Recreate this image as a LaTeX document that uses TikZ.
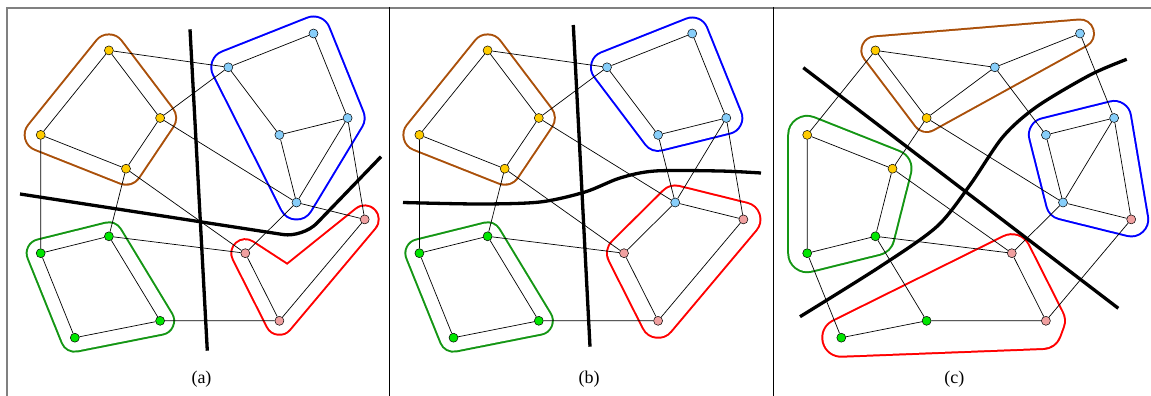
\documentclass[tikz,border=0pt]{standalone}
\usepackage{fontspec}
\setmainfont{Liberation Serif}
\usetikzlibrary{backgrounds}

\definecolor{nodeyellow}{RGB}{255,204,0}
\definecolor{nodeblue}{RGB}{135,206,250}
\definecolor{nodegreen}{RGB}{0,230,0}
\definecolor{nodepink}{RGB}{240,160,160}
\definecolor{grpbrown}{RGB}{170,80,10}
\definecolor{grpblue}{RGB}{0,0,255}
\definecolor{grpgreen}{RGB}{20,150,20}
\definecolor{grpred}{RGB}{255,0,0}
\definecolor{framegray}{RGB}{128,128,128}

% the same graph in every panel
\newcommand{\graphnodes}{%
  \node[vtx, fill=nodeyellow] (y1) at (108.9, 50.4) {};
  \node[vtx, fill=nodeyellow] (y2) at (160.1, 118.0) {};
  \node[vtx, fill=nodeyellow] (y3) at (40.7, 134.9) {};
  \node[vtx, fill=nodeyellow] (y4) at (126.0, 168.7) {};
  \node[vtx, fill=nodeblue] (b1) at (313.5, 33.5) {};
  \node[vtx, fill=nodeblue] (b2) at (228.3, 67.3) {};
  \node[vtx, fill=nodeblue] (b3) at (347.6, 118.0) {};
  \node[vtx, fill=nodeblue] (b4) at (279.4, 134.9) {};
  \node[vtx, fill=nodeblue] (b5) at (296.5, 202.5) {};
  \node[vtx, fill=nodegreen] (g1) at (108.9, 236.3) {};
  \node[vtx, fill=nodegreen] (g2) at (40.7, 253.2) {};
  \node[vtx, fill=nodegreen] (g3) at (160.1, 320.8) {};
  \node[vtx, fill=nodegreen] (g4) at (74.8, 337.7) {};
  \node[vtx, fill=nodepink] (p1) at (364.7, 219.4) {};
  \node[vtx, fill=nodepink] (p2) at (245.3, 253.2) {};
  \node[vtx, fill=nodepink] (p3) at (279.4, 320.8) {};
}
\newcommand{\graphedges}{%
  \draw[link] (y1) -- (y2) (y1) -- (y3) (y3) -- (y4) (y2) -- (y4)
    (y1) -- (b2) (y2) -- (b2) (y2) -- (b5) (y3) -- (g2) (y4) -- (g1) (y4) -- (p2);
  \draw[link] (b2) -- (b1) (b1) -- (b3) (b2) -- (b4) (b4) -- (b3) (b4) -- (b5)
    (b3) -- (b5) (b3) -- (p1) (b5) -- (p1) (b5) -- (p2);
  \draw[link] (g1) -- (g2) (g2) -- (g4) (g4) -- (g3) (g1) -- (g3) (g1) -- (p2)
    (g3) -- (p3) (p2) -- (p3) (p3) -- (p1);
}
% group outline: colour, margin, hull through node centres
\newcommand{\blob}[3]{%
  \draw[#1, line width={2*#2+2}, line join=round] #3 -- cycle;
  \filldraw[white, line width={2*#2-2}, line join=round] #3 -- cycle;
}

\begin{document}
\begin{tikzpicture}[
    x=1pt, y=-1pt,
    every node/.style={font=\fontsize{18}{21}\selectfont},
    vtx/.style={circle, draw, line width=0.5pt, inner sep=0pt, minimum size=9pt},
    link/.style={line width=0.7pt},
    splitline/.style={line width=3.3pt},
]
\useasboundingbox (0,0) rectangle (1151,396);

% Frame
\draw[framegray, line width=2pt] (7.3,396) -- (7.3,8) -- (1151,8);
\draw[line width=1.3pt] (389.7,7) -- (389.7,396);
\draw[line width=1.3pt] (773.3,7) -- (773.3,396);

% (a)
\begin{scope}[name prefix=a-]
  \graphnodes
  \coordinate (notch) at (288,281);
  \begin{scope}[on background layer]
    \blob{grpbrown}{16}{(y1.center) -- (y2.center) -- (y4.center) -- (y3.center)}
    \blob{grpgreen}{14}{(g1.center) -- (g3.center) -- (g4.center) -- (g2.center)}
    \blob{grpblue}{17}{(b2.center) -- (b1.center) -- (b3.center) -- (b5.center)}
    \blob{grpred}{14}{(p2.center) -- (p3.center) -- (p1.center) -- (notch)}
    \graphedges
  \end{scope}
  \draw[splitline] (190,29.3) -- (207.3,350.7);
  \draw[splitline, rounded corners=20pt] (20,194) -- (303,237.6) -- (381,156.7);
  \node (lbla) at (201.5,379) {(a)};
\end{scope}

% (b)
\begin{scope}[xshift=378.7pt, name prefix=b-]
  \graphnodes
  \begin{scope}[on background layer]
    \blob{grpbrown}{16}{(y1.center) -- (y2.center) -- (y4.center) -- (y3.center)}
    \blob{grpgreen}{14}{(g1.center) -- (g3.center) -- (g4.center) -- (g2.center)}
    \blob{grpblue}{16}{(b2.center) -- (b1.center) -- (b3.center) -- (b4.center)}
    \blob{grpred}{17}{(b5.center) -- (p1.center) -- (p3.center) -- (p2.center)}
    \graphedges
  \end{scope}
  \draw[splitline] (194.6,25) -- (211.3,346.7);
  \draw[splitline, smooth] plot coordinates {
    (24.3,202.5) (101.3,204) (161.3,202) (206.3,192) (241.3,178)
    (276.3,171) (341.3,171) (382.3,173)
  };
  \node (lblb) at (210.3,379) {(b)};
\end{scope}

% (c)
\begin{scope}[xshift=766.5pt, name prefix=c-]
  \graphnodes
  \coordinate (tail) at (276,330);
  \begin{scope}[on background layer]
    \blob{grpbrown}{14}{(y1.center) -- (b1.center) -- (y2.center)}
    \blob{grpgreen}{19}{(y3.center) -- (y4.center) -- (g1.center) -- (g2.center)}
    \blob{grpblue}{17}{(b4.center) -- (b3.center) -- (p1.center) -- (b5.center)}
    \blob{grpred}{19}{(g4.center) -- (p2.center) -- (p3.center) -- (tail)}
    \graphedges
  \end{scope}
  \draw[splitline] (36.8,67.7) -- (351.8,308.3);
  \draw[splitline, smooth] plot coordinates {
    (33.5,316.7) (113.5,266.7) (170.2,226.7) (203.5,185) (236.5,136.7)
    (270.2,106.7) (323.5,75) (360.2,59.3)
  };
  \node (lblc) at (187.8,379) {(c)};
\end{scope}

\end{tikzpicture}
\end{document}
